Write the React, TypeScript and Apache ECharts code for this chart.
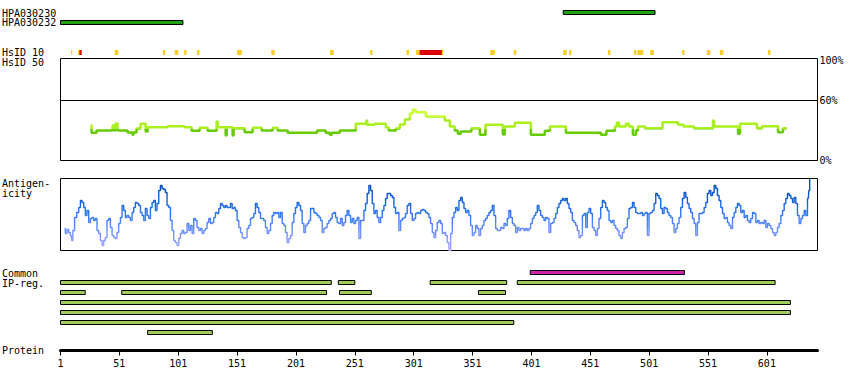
import React, { useEffect, useRef } from 'react';
import * as echarts from 'echarts';

// ---------- data ----------
const PROTEIN_LENGTH = 644;
const PROTEIN_TICK_STEP = 50;

const HPA_NAMES = ['HPA030230', 'HPA030232'];
const HPA_START = [428, 1];
const HPA_END = [506, 105];

// HsID 10 identity markers (kind 0 = yellow, 1 = red)
const HSID10_START = [10, 16, 17, 47, 88, 98, 106, 117, 151, 180, 230, 264, 295, 303, 306, 325, 366, 386, 428, 433, 466, 488, 491, 502, 529, 550, 561, 602];
const HSID10_END = [11, 17, 19, 50, 90, 101, 108, 119, 155, 183, 233, 266, 297, 306, 325, 326, 370, 388, 431, 435, 468, 490, 496, 505, 531, 553, 564, 604];
const HSID10_KIND = [0, 0, 1, 0, 0, 0, 0, 0, 0, 0, 0, 0, 0, 0, 1, 0, 0, 0, 0, 0, 0, 0, 0, 0, 0, 0, 0, 0];

// HsID 50 profile: [residue, % identity]
const HSID50_PROFILE: [number, number][] = [
  [26.5, 35], [27.4, 27.7], [31.6, 30], [45.2, 35], [46.9, 30], [47.8, 37], [49.5, 30], [58, 28], [62.2, 25.7], [63, 28],
  [65.6, 32], [69, 36.7], [73.3, 29], [75, 33.3], [92, 34.3], [106.4, 33.3], [112.4, 29.7], [119.2, 32.7], [126, 29.7],
  [133.6, 39], [134.5, 33.3], [141.3, 25], [142.1, 33.3], [147.2, 25], [148, 32.3], [157.4, 28.3], [164.2, 32.7],
  [171.9, 30], [181.2, 32.7], [185.5, 30], [194, 27.7], [219, 30], [226.3, 27.7], [229.7, 25.7], [231.4, 27.7],
  [238.2, 30], [251.8, 36.7], [260.7, 40], [261.5, 35.7], [267.9, 36.7], [277.3, 33], [279.8, 30], [285.8, 32],
  [289.2, 36], [293.4, 41], [297.7, 47], [300.2, 50.7], [302.8, 48.3], [311.3, 44], [327.4, 40], [331.7, 34],
  [335.9, 30], [338.5, 26.7], [341, 29], [350, 32.3], [357.2, 25.7], [362, 35.7], [376.7, 26], [378.4, 34],
  [386.9, 37.7], [400.5, 25.7], [412.4, 29.7], [416.7, 34], [430.3, 27.7], [460, 25.7], [464.7, 29.7], [471.9, 34],
  [473.6, 38], [475.3, 34], [481.3, 36.7], [483.8, 34], [487.2, 25.7], [489.8, 30], [491.5, 34], [497.4, 32.3],
  [512.4, 38.3], [525.5, 35.7], [530.2, 34], [539.1, 32.3], [555.2, 40], [556.1, 34], [576.5, 26.7], [578.2, 36.7],
  [592.6, 32.3], [596.9, 34.3], [610.5, 28.3], [614.7, 32.3], [618.1, 32.3],
];

// Antigenicity profile: [residue, score]
const ANTIGEN_PROFILE: [number, number][] = [
  [4.4, 22], [5.8, 17], [7.2, 21], [8.7, 18], [10.1, 15], [10.9, 10], [12.1, 20], [13.8, 33], [15.7, 38], [17.2, 43],
  [18.6, 50], [20, 48], [21.4, 43], [22.8, 35], [24.2, 40], [25.7, 28], [27.1, 32], [28.5, 33], [29.9, 30], [31.3, 32],
  [32.7, 20], [34.2, 17], [35.6, 10], [37, 5], [38.4, 10], [39.8, 13], [41.2, 30], [42.7, 32], [44.1, 23], [45.5, 15],
  [46.9, 13], [48.3, 12], [49.7, 18], [51.2, 27], [52.6, 33], [54, 45], [55.4, 40], [56.8, 33], [58.2, 35], [59.7, 33],
  [61.1, 30], [62.5, 38], [63.9, 43], [65.3, 48], [66.7, 47], [68.2, 45], [69.6, 38], [71, 35], [72.4, 30], [73.8, 42],
  [75.2, 35], [76.7, 32], [78.1, 43], [79.5, 48], [80.9, 50], [82.3, 40], [83.7, 47], [85.2, 60], [86.6, 65], [88, 62],
  [89.4, 61], [90.8, 58], [92.2, 45], [93.7, 43], [95.1, 30], [96.5, 20], [97.9, 10], [99.3, 8], [100.7, 5], [102.2, 12],
  [103.6, 17], [105, 20], [106.4, 17], [107.8, 18], [109.2, 27], [110.7, 20], [112.1, 25], [113.5, 17], [114.9, 32],
  [116.3, 30], [117.7, 23], [119.2, 20], [120.6, 22], [122, 17], [123.4, 20], [124.8, 22], [126.2, 28], [127.7, 32],
  [129.1, 27], [130.5, 28], [131.9, 33], [133.3, 38], [134.7, 37], [136.2, 42], [137.6, 47], [139, 45], [140.4, 43],
  [141.8, 45], [143.2, 43], [144.7, 43], [146.1, 47], [147.5, 42], [148.9, 43], [150.3, 40], [151.7, 30], [153.2, 23],
  [154.6, 18], [156, 13], [157.4, 12], [158.8, 13], [160.2, 22], [161.7, 25], [163.1, 32], [164.5, 33], [165.9, 37],
  [167.3, 47], [168.7, 43], [170.2, 38], [171.6, 32], [173, 32], [174.4, 30], [175.8, 23], [177.2, 17], [178.7, 20],
  [180.1, 27], [181.5, 35], [182.9, 38], [184.3, 37], [185.7, 38], [187.2, 33], [188.6, 38], [190, 27], [191.4, 25],
  [192.8, 18], [194.2, 8], [195.7, 12], [197.1, 15], [198.5, 28], [199.9, 37], [201.3, 43], [202.7, 48], [204.2, 45],
  [205.6, 40], [207, 27], [208.4, 18], [209.8, 25], [211.2, 27], [212.7, 30], [214.1, 42], [215.5, 42], [216.9, 38],
  [218.3, 37], [219.7, 35], [221.2, 33], [222.6, 30], [224, 18], [225.4, 22], [226.8, 23], [228.2, 27], [229.7, 30],
  [231.1, 32], [232.5, 37], [233.9, 38], [235.3, 33], [236.7, 28], [238.2, 27], [239.6, 32], [241, 25], [242.4, 28],
  [243.8, 35], [245.2, 40], [246.7, 35], [248.1, 28], [249.5, 32], [250.9, 27], [252.3, 30], [253.7, 33], [255.2, 12],
  [256.6, 30], [258, 30], [259.4, 40], [260.8, 47], [262.2, 57], [263.7, 65], [265.1, 60], [266.5, 47], [267.9, 37],
  [269.3, 40], [270.7, 33], [272.2, 28], [273.6, 33], [275, 40], [276.4, 45], [277.8, 52], [279.2, 57], [280.7, 57],
  [282.1, 55], [283.5, 53], [284.9, 43], [286.3, 37], [287.7, 38], [289.2, 20], [290.6, 30], [292, 32], [293.4, 33],
  [294.8, 37], [296.2, 45], [297.7, 47], [299.1, 37], [300.5, 30], [301.9, 32], [303.3, 37], [304.7, 38],
  [306.2, 37], [307.6, 40], [309, 41], [310.4, 40], [311.8, 38], [313.2, 37], [314.6, 33], [316.1, 27], [317.5, 18],
  [318.9, 13], [320.3, 20], [321.7, 28], [323.2, 30], [324.6, 27], [326, 17], [327.4, 18], [328.8, 15], [330.2, 8],
  [331.7, 0], [333.1, 17], [334.5, 33], [335.9, 38], [337.3, 43], [338.7, 40], [340.2, 50], [341.6, 53], [343, 48],
  [344.4, 42], [345.8, 38], [347.2, 40], [348.6, 35], [350.1, 25], [351.5, 15], [352.9, 18], [354.3, 25], [355.7, 22],
  [357.1, 15], [358.6, 22], [360, 25], [361.4, 30], [362.8, 32], [364.2, 35], [365.6, 38], [367.1, 40], [368.5, 45],
  [369.9, 35], [371.3, 22], [372.7, 20], [374.1, 20], [375.6, 23], [377, 22], [378.4, 27], [379.8, 25], [381.2, 32],
  [382.6, 40], [384.1, 33], [385.5, 27], [386.9, 25], [388.3, 18], [389.7, 23], [391.1, 20], [392.6, 22], [394, 22],
  [395.4, 20], [396.8, 22], [398.2, 20], [399.6, 22], [401.1, 27], [402.5, 32], [403.9, 35], [405.3, 38], [406.7, 45],
  [408.1, 40], [409.6, 35], [411, 33], [412.4, 30], [413.8, 33], [415.2, 32], [416.6, 18], [418.1, 27], [419.5, 28],
  [420.9, 32], [422.3, 37], [423.7, 43], [425.1, 47], [426.6, 50], [428, 52], [429.4, 50], [430.8, 52], [432.2, 47],
  [433.6, 42], [435.1, 38], [436.5, 30], [437.9, 28], [439.3, 25], [440.7, 20], [442.1, 13], [443.6, 15], [445, 35],
  [446.4, 37], [447.8, 23], [449.2, 38], [450.6, 42], [452.1, 37], [453.5, 23], [454.9, 20], [456.3, 15], [457.7, 22],
  [459.1, 32], [460.6, 43], [462, 50], [463.4, 48], [464.8, 43], [466.2, 40], [467.6, 30], [469.1, 28], [470.5, 30],
  [471.9, 25], [473.3, 22], [474.7, 20], [476.1, 15], [477.6, 12], [479, 18], [480.4, 22], [481.8, 23], [483.2, 32],
  [484.6, 42], [486.1, 43], [487.5, 48], [488.9, 43], [490.3, 38], [491.7, 37], [493.1, 37], [494.6, 38], [496, 35],
  [497.4, 37], [498.8, 38], [500.2, 15], [501.6, 37], [503.1, 38], [504.5, 40], [505.9, 47], [507.3, 57], [508.7, 55],
  [510.1, 52], [511.6, 42], [513, 37], [514.4, 43], [515.8, 42], [517.2, 38], [518.6, 35], [520.1, 33], [521.5, 27],
  [522.9, 18], [524.3, 22], [525.7, 27], [527.1, 33], [528.6, 43], [530, 52], [531.4, 58], [532.8, 53], [534.2, 47],
  [535.6, 42], [537.1, 38], [538.5, 32], [539.9, 27], [541.3, 15], [542.7, 28], [544.1, 37], [545.6, 37], [547, 38],
  [548.4, 43], [549.8, 48], [551.2, 57], [552.6, 60], [554.1, 55], [555.5, 58], [556.9, 65], [558.3, 62], [559.7, 55],
  [561.1, 50], [562.6, 43], [564, 37], [565.4, 32], [566.8, 33], [568.2, 28], [569.6, 25], [571.1, 22], [572.5, 33],
  [573.9, 38], [575.3, 43], [576.7, 47], [578.1, 45], [579.6, 38], [581, 40], [582.4, 33], [583.8, 35], [585.2, 30],
  [586.6, 28], [588.1, 32], [589.5, 38], [590.9, 37], [592.3, 28], [593.7, 30], [595.1, 27], [596.6, 28], [598, 27],
  [599.4, 30], [600.8, 23], [602.2, 27], [603.6, 25], [605.1, 22], [606.5, 18], [607.9, 15], [609.3, 18], [610.7, 23],
  [612.1, 27], [613.6, 35], [615, 40], [616.4, 47], [617.8, 52], [619.2, 57], [620.6, 55], [622.1, 52], [623.5, 48],
  [624.9, 53], [626.3, 47], [627.7, 35], [629.1, 27], [630.6, 32], [632, 35], [633.4, 40], [634.8, 35], [636.2, 52],
  [637.1, 60], [637.6, 72],
];

// Common IP-reg. regions (kind 1 = magenta)
const IP_ROW = [0, 1, 1, 1, 1, 2, 2, 2, 2, 3, 4, 5, 6];
const IP_START = [400, 1, 237, 315, 389, 1, 53, 238, 356, 1, 1, 1, 75];
const IP_END = [531, 231, 251, 380, 608, 22, 227, 265, 379, 621, 621, 386, 130];
const IP_KIND = [1, 0, 0, 0, 0, 0, 0, 0, 0, 0, 0, 0, 0];
const IP_ROWS = ['0', '1', '2', '3', '4', '5', '6'];

const HSID50_LABELS = [0, 60, 100];

// ---------- chart ----------
const FONT = '"DejaVu Sans Mono", monospace';

function barRenderer(fillOf: (k: number) => string, heightFrac: number, stroke: boolean) {
  return (_params: any, api: any) => {
    const row = api.value(2);
    const s = api.coord([api.value(0), row]);
    const e = api.coord([api.value(1), row]);
    const h = api.size([0, 1])[1] * heightFrac;
    return {
      type: 'rect',
      shape: { x: s[0], y: s[1] - h / 2, width: e[0] - s[0], height: h },
      style: stroke
        ? { fill: fillOf(api.value(3)), stroke: '#000', lineWidth: 1 }
        : { fill: fillOf(api.value(3)) },
    };
  };
}

export default function App() {
  const ref = useRef<HTMLDivElement>(null);
  useEffect(() => {
    if (!ref.current) return;
    const chart = echarts.init(ref.current, undefined, { renderer: 'svg' });
    const L = 60.5;
    const W = 757;
    const xBase = { type: 'value', min: 1, max: PROTEIN_LENGTH, show: false };
    const labelText = (text: string, x: number, y: number) => ({
      type: 'text',
      x,
      y,
      style: { text, fill: '#000', font: `10px ${FONT}`, textVerticalAlign: 'middle', textAlign: 'left' },
    });

    const option: any = {
      animation: false,
      backgroundColor: '#fff',
      grid: [
        { left: L, width: W, top: 7.5, height: 20 },
        { left: L, width: W, top: 50, height: 5 },
        { left: L, width: W, top: 58.5, height: 102, show: true, borderColor: '#000', borderWidth: 1, backgroundColor: 'transparent' },
        { left: L, width: W, top: 178.5, height: 72, show: true, borderColor: '#000', borderWidth: 1, backgroundColor: 'transparent' },
        { left: L, width: W, top: 267.5, height: 70 },
        { left: L, width: W, top: 349.5, height: 1 },
      ],
      xAxis: [
        { ...xBase, gridIndex: 0 },
        { ...xBase, gridIndex: 1 },
        { ...xBase, gridIndex: 2 },
        { ...xBase, gridIndex: 3 },
        { ...xBase, gridIndex: 4 },
        {
          type: 'value',
          gridIndex: 5,
          min: 1,
          max: PROTEIN_LENGTH,
          interval: PROTEIN_TICK_STEP,
          position: 'bottom',
          axisLine: { show: true, lineStyle: { color: '#000', width: 3 } },
          axisTick: { show: true, length: 5, lineStyle: { color: '#000', width: 1 } },
          splitLine: { show: false },
          axisLabel: {
            margin: 8,
            color: '#000',
            fontFamily: FONT,
            fontSize: 10,
            showMaxLabel: false,
            formatter: (v: number) => (v === PROTEIN_LENGTH ? '' : String(v)),
          },
        },
      ],
      yAxis: [
        { type: 'category', gridIndex: 0, data: HPA_NAMES, inverse: true, show: false },
        { type: 'category', gridIndex: 1, data: ['HsID 10'], show: false },
        {
          type: 'value',
          gridIndex: 2,
          min: 0,
          max: 102,
          interval: 20,
          position: 'right',
          axisLine: { show: false },
          axisTick: { show: false },
          splitLine: { show: false },
          axisLabel: {
            margin: 2,
            color: '#000',
            fontFamily: FONT,
            fontSize: 10,
            formatter: (v: number) => (HSID50_LABELS.includes(v) ? v + '%' : ''),
          },
        },
        { type: 'value', gridIndex: 3, min: 0, max: 72, show: false },
        { type: 'category', gridIndex: 4, data: IP_ROWS, inverse: true, show: false },
        { type: 'value', gridIndex: 5, show: false },
      ],
      visualMap: [
        {
          type: 'piecewise',
          show: false,
          seriesIndex: 2,
          dimension: 1,
          pieces: [
            { lt: 31.5, color: '#66cc00' },
            { gte: 31.5, lt: 44, color: '#aaf01e' },
            { gte: 44, color: '#ccff33' },
          ],
        },
        {
          type: 'continuous',
          show: false,
          seriesIndex: 3,
          dimension: 1,
          min: 0,
          max: 72,
          inRange: { color: ['#aaa6ff', '#7090ff', '#2f78f5', '#0a5ad0', '#0046b0'] },
        },
      ],
      series: [
        {
          type: 'custom',
          xAxisIndex: 0,
          yAxisIndex: 0,
          renderItem: barRenderer(() => '#22a014', 0.4, true),
          encode: { x: [0, 1], y: 2 },
          data: HPA_START.map((s, i) => [s, HPA_END[i], i, 0]),
        },
        {
          type: 'custom',
          xAxisIndex: 1,
          yAxisIndex: 1,
          renderItem: barRenderer((k) => (k === 1 ? '#dd0000' : '#ffcc22'), 1, false),
          encode: { x: [0, 1], y: 2 },
          data: HSID10_START.map((s, i) => [s, HSID10_END[i], 0, HSID10_KIND[i]]),
        },
        {
          type: 'line',
          xAxisIndex: 2,
          yAxisIndex: 2,
          step: 'end',
          showSymbol: false,
          lineStyle: { width: 2.5 },
          data: HSID50_PROFILE,
          markLine: {
            silent: true,
            symbol: 'none',
            label: { show: false },
            lineStyle: { color: '#000', width: 1, type: 'solid' },
            data: [{ yAxis: 60 }],
          },
        },
        {
          type: 'line',
          xAxisIndex: 3,
          yAxisIndex: 3,
          step: 'middle',
          showSymbol: false,
          lineStyle: { width: 1.4 },
          data: ANTIGEN_PROFILE,
        },
        {
          type: 'custom',
          xAxisIndex: 4,
          yAxisIndex: 4,
          renderItem: barRenderer((k) => (k === 1 ? '#cc22aa' : '#a2cc5a'), 0.4, true),
          encode: { x: [0, 1], y: 2 },
          data: IP_START.map((s, i) => [s, IP_END[i], IP_ROW[i], IP_KIND[i]]),
        },
      ],
      graphic: [
        labelText(HPA_NAMES[0], 2, 13),
        labelText(HPA_NAMES[1], 2, 22.5),
        labelText('HsID 10', 2, 52.5),
        labelText('HsID 50', 2, 62.5),
        labelText('Antigen-', 2, 183),
        labelText('icity', 2, 193),
        labelText('Common', 2, 273.5),
        labelText('IP-reg.', 2, 283),
        labelText('Protein', 2, 350),
      ],
    };
    chart.setOption(option);
    return () => chart.dispose();
  }, []);
  return (
    <div
      ref={ref}
      style={{ position: 'fixed', left: 0, top: 0, width: 850, height: 390, background: '#fff' }}
    />
  );
}
